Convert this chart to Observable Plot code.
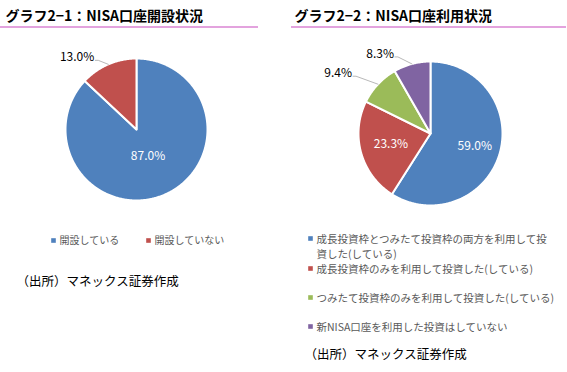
<!DOCTYPE html>
<html><head><meta charset="utf-8">
<script src="https://cdn.jsdelivr.net/npm/d3@7"></script>
<script src="https://cdn.jsdelivr.net/npm/@observablehq/plot@0.6"></script>
<style>
html,body{margin:0;padding:0;background:#fff;}
#chart{width:567px;height:372px;}
</style>
</head><body><div id="chart"></div>
<script>
// ---- data ----
const titles = ["グラフ2−1：NISA口座開設状況", "グラフ2−2：NISA口座利用状況"];
const chart1Labels = ["開設している", "開設していない"];
const chart1Values = [87.0, 13.0];
const chart2Labels = [
  "成長投資枠とつみたて投資枠の両方を利用して投資した(している)",
  "成長投資枠のみを利用して投資した(している)",
  "つみたて投資枠のみを利用して投資した(している)",
  "新NISA口座を利用した投資はしていない"
];
const chart2Values = [59.0, 23.3, 9.4, 8.3];
const sourceNote = "（出所）マネックス証券作成";

// ---- styles / layout ----
const colors = ["#4F81BD", "#C0504D", "#9BBB59", "#8064A2"];
const pies = [
  {labels: chart1Labels, values: chart1Values, cx: 136, cy: 129, r: 71,
   inside: [0.41, null], elbow: [null, [-10, -4]]},
  {labels: chart2Labels, values: chart2Values, cx: 430, cy: 133, r: 72,
   inside: [0.64, 0.57, null, null], elbow: [null, null, [-22, -8], [-14, -7]]}
];

const polys = [], insideText = [], outsideText = [], leaders = [];
pies.forEach((p, pi) => {
  const arcs = d3.pie().sort(null).value(d => d)(p.values);
  arcs.forEach((a, i) => {
    const key = pi + "-" + i;
    polys.push({key, x: p.cx, y: p.cy, color: colors[i]});
    const n = Math.max(2, Math.ceil((a.endAngle - a.startAngle) / 0.01));
    for (let k = 0; k <= n; k++) {
      const t = a.startAngle + (a.endAngle - a.startAngle) * k / n;
      polys.push({key, x: p.cx + p.r * Math.sin(t), y: p.cy - p.r * Math.cos(t), color: colors[i]});
    }
    polys.push({key, x: p.cx, y: p.cy, color: colors[i]});
    const mid = (a.startAngle + a.endAngle) / 2;
    const label = d3.format(".1f")(a.data) + "%";
    if (p.inside[i] != null) {
      const rr = p.r * p.inside[i];
      insideText.push({x: p.cx + rr * Math.sin(mid), y: p.cy - rr * Math.cos(mid), label});
    } else {
      const ex = p.cx + p.r * Math.sin(mid), ey = p.cy - p.r * Math.cos(mid);
      const bx = ex + p.elbow[i][0], by = ey + p.elbow[i][1];
      leaders.push({key, x: ex, y: ey}, {key, x: bx, y: by}, {key, x: bx - 3, y: by});
      outsideText.push({x: bx - 4, y: by - 3, label});
    }
  });
});

// legends
const leg1 = chart1Labels.map((l, i) => ({x: [53, 148][i], y: 240, label: l, color: colors[i]}));
const leg2 = [];
const leg2Y = [238, 268, 297, 326];
chart2Labels.forEach((l, i) => {
  const txt = l.length > 26 ? l.slice(0, 22) + "\n" + l.slice(22) : l;
  leg2.push({x: 310, y: leg2Y[i], label: txt, color: colors[i]});
});

const font = "'Noto Sans CJK JP', 'Noto Sans', sans-serif";

const plot = Plot.plot({
  width: 567, height: 372,
  margin: 0,
  x: {domain: [0, 567], range: [0, 567], axis: null},
  y: {domain: [0, 372], range: [0, 372], axis: null},
  style: {fontFamily: font, background: "#fff", overflow: "visible"},
  marks: [
    // titles
    Plot.text(titles, {x: [5, 294], y: [16, 16], text: d => d, textAnchor: "start",
      fontSize: 14, fontWeight: "bold", fill: "#000"}),
    Plot.ruleY([26.5, 26.5], {x1: [0, 291], x2: [258, 566], stroke: "#E3A3DE", strokeWidth: 2}),
    // pie slices
    Plot.line(polys, {x: "x", y: "y", z: "key", fill: "color", stroke: "#fff",
      strokeWidth: 2, strokeLinejoin: "round", curve: "linear"}),
    // leader lines
    Plot.line(leaders, {x: "x", y: "y", z: "key", stroke: "#A6A6A6", strokeWidth: 0.8}),
    Plot.text(insideText, {x: "x", y: "y", text: "label", fill: "#fff", fontSize: 12}),
    Plot.text(outsideText, {x: "x", y: "y", text: "label", fill: "#000", fontSize: 12, textAnchor: "end"}),
    // legends
    Plot.dot(leg1, {x: "x", y: "y", symbol: "square", r: 2.6, fill: "color"}),
    Plot.text(leg1, {x: d => d.x + 6, y: "y", text: "label", textAnchor: "start", fontSize: 10, fill: "#595959"}),
    Plot.dot(leg2, {x: "x", y: "y", symbol: "square", r: 2.6, fill: "color"}),
    Plot.text(leg2, {x: d => d.x + 6, y: "y", text: "label", textAnchor: "start", lineAnchor: "top",
      dy: -7, lineHeight: 1.5, fontSize: 10.5, fill: "#595959"}),
    // source notes
    Plot.text([sourceNote, sourceNote], {x: [16, 304], y: [281, 354], text: d => d, textAnchor: "start",
      fontSize: 12.5, fill: "#000"})
  ]
});
document.getElementById("chart").appendChild(plot);
</script>
</body></html>
